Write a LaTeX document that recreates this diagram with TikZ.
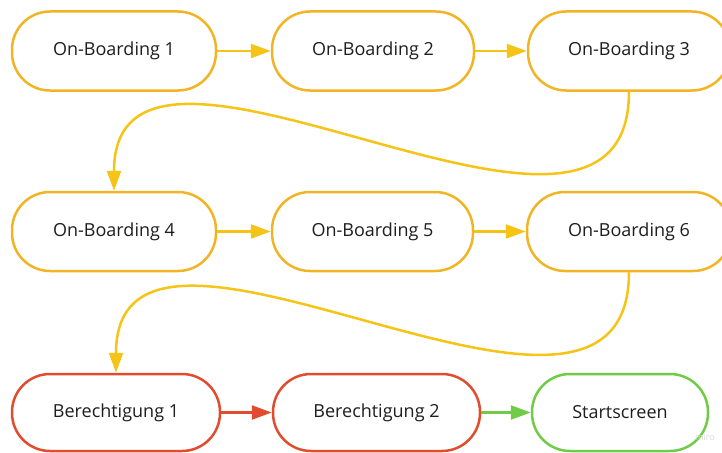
\documentclass[tikz,border=0pt]{standalone}
\usepackage{fontspec}
\setmainfont{Open Sans}
\usetikzlibrary{arrows.meta}
\definecolor{obyellow}{RGB}{241,180,36}
\definecolor{arryellow}{RGB}{245,196,22}
\definecolor{bred}{RGB}{226,76,46}
\definecolor{sgreen}{RGB}{114,203,70}
\definecolor{txt}{RGB}{30,30,30}
\tikzset {>={Triangle[length=20pt,width=14pt]}}
\tikzset{screen/.style={draw=obyellow,line width=2.5pt,rounded corners=38pt,
    minimum height=79pt,minimum width=202pt,fill=white,text=txt,inner sep=0pt,
    font=\fontsize{18}{21}\selectfont},
  flow/.style={->,line width=2.5pt,arryellow}}

\begin{document}
\begin{tikzpicture}[x=1pt,y=-1pt]
\path[use as bounding box,clip] (0,0) rectangle (722,452);
% on-boarding rows
\node[screen,minimum width=204pt] (ob1) at (114,51) {On-Boarding 1};
\node[screen] (ob2) at (373,51) {On-Boarding 2};
\node[screen] (ob3) at (629,51) {On-Boarding 3};
\node[screen,minimum width=204pt] (ob4) at (114,231.5) {On-Boarding 4};
\node[screen,minimum width=201pt] (ob5) at (372.5,231.5) {On-Boarding 5};
\node[screen,minimum width=204pt] (ob6) at (629,231.5) {On-Boarding 6};
% last row
\node[screen,draw=bred,minimum width=208pt,minimum height=77pt] (b1) at (116,412.5) {Berechtigung 1};
\node[screen,draw=bred,minimum width=207pt,minimum height=77pt] (b2) at (376.5,412.5) {Berechtigung 2};
\node[screen,draw=sgreen,minimum width=176pt,minimum height=77pt] (start) at (620,412.5) {Startscreen};
\draw[flow] (ob1) -- (ob2);
\draw[flow] (ob2) -- (ob3);
\draw[flow] (ob4) -- (ob5);
\draw[flow] (ob5) -- (ob6);
\draw[flow] (ob3.south) .. controls +(0,235) and +(0,-228) .. (ob4.north);
\draw[flow] (ob6.south) .. controls +(0,235) and +(0,-228) .. (b1.north);
\draw[flow,bred] (b1) -- (b2);
\draw[flow,sgreen] (b2) -- (start);
\node[text=black!15,font=\fontsize{9}{10}\selectfont] (miro) at (705,437) {miro};
\end{tikzpicture}
\end{document}
